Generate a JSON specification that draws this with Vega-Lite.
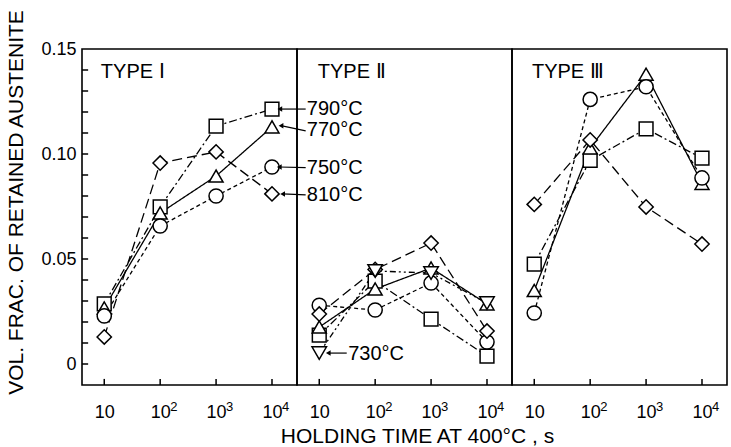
{
  "$schema": "https://vega.github.io/schema/vega-lite/v6.json",
  "padding": {"left": 5, "top": 8, "right": 0, "bottom": 0},
  "background": "white",
  "spacing": 0,
  "bounds": "flush",
  "datasets": {
    "pts": [
      {"p": "I", "t": "790", "x": 10, "y": 0.0286}, {"p": "I", "t": "790", "x": 100, "y": 0.0748}, {"p": "I", "t": "790", "x": 1000, "y": 0.1133}, {"p": "I", "t": "790", "x": 10000, "y": 0.1214},
      {"p": "I", "t": "770", "x": 10, "y": 0.0267}, {"p": "I", "t": "770", "x": 100, "y": 0.0719}, {"p": "I", "t": "770", "x": 1000, "y": 0.0895}, {"p": "I", "t": "770", "x": 10000, "y": 0.1129},
      {"p": "I", "t": "750", "x": 10, "y": 0.0229}, {"p": "I", "t": "750", "x": 100, "y": 0.0657}, {"p": "I", "t": "750", "x": 1000, "y": 0.080}, {"p": "I", "t": "750", "x": 10000, "y": 0.0938},
      {"p": "I", "t": "810", "x": 10, "y": 0.0129}, {"p": "I", "t": "810", "x": 100, "y": 0.0957}, {"p": "I", "t": "810", "x": 1000, "y": 0.101}, {"p": "I", "t": "810", "x": 10000, "y": 0.081},
      {"p": "II", "t": "790", "x": 10, "y": 0.0138}, {"p": "II", "t": "790", "x": 100, "y": 0.0395}, {"p": "II", "t": "790", "x": 1000, "y": 0.0214}, {"p": "II", "t": "790", "x": 10000, "y": 0.0038},
      {"p": "II", "t": "770", "x": 10, "y": 0.0176}, {"p": "II", "t": "770", "x": 100, "y": 0.0357}, {"p": "II", "t": "770", "x": 1000, "y": 0.0457}, {"p": "II", "t": "770", "x": 10000, "y": 0.0286},
      {"p": "II", "t": "750", "x": 10, "y": 0.028}, {"p": "II", "t": "750", "x": 100, "y": 0.0257}, {"p": "II", "t": "750", "x": 1000, "y": 0.0386}, {"p": "II", "t": "750", "x": 10000, "y": 0.0105},
      {"p": "II", "t": "810", "x": 10, "y": 0.0238}, {"p": "II", "t": "810", "x": 100, "y": 0.045}, {"p": "II", "t": "810", "x": 1000, "y": 0.0576}, {"p": "II", "t": "810", "x": 10000, "y": 0.0157},
      {"p": "II", "t": "730", "x": 10, "y": 0.0052}, {"p": "II", "t": "730", "x": 100, "y": 0.0443}, {"p": "II", "t": "730", "x": 1000, "y": 0.0433}, {"p": "II", "t": "730", "x": 10000, "y": 0.029},
      {"p": "III", "t": "790", "x": 10, "y": 0.0476}, {"p": "III", "t": "790", "x": 100, "y": 0.097}, {"p": "III", "t": "790", "x": 1000, "y": 0.112}, {"p": "III", "t": "790", "x": 10000, "y": 0.098},
      {"p": "III", "t": "770", "x": 10, "y": 0.035}, {"p": "III", "t": "770", "x": 100, "y": 0.1029}, {"p": "III", "t": "770", "x": 1000, "y": 0.138}, {"p": "III", "t": "770", "x": 10000, "y": 0.086},
      {"p": "III", "t": "750", "x": 10, "y": 0.0243}, {"p": "III", "t": "750", "x": 100, "y": 0.126}, {"p": "III", "t": "750", "x": 1000, "y": 0.132}, {"p": "III", "t": "750", "x": 10000, "y": 0.0886},
      {"p": "III", "t": "810", "x": 10, "y": 0.076}, {"p": "III", "t": "810", "x": 100, "y": 0.1067}, {"p": "III", "t": "810", "x": 1000, "y": 0.0748}, {"p": "III", "t": "810", "x": 10000, "y": 0.0571}
    ],
    "notes": [
      {"p": "I", "label": "TYPE Ⅰ", "x": 8.7, "y": 0.139},
      {"p": "II", "label": "TYPE Ⅱ", "x": 9.4, "y": 0.139},
      {"p": "III", "label": "TYPE Ⅲ", "x": 9.1, "y": 0.139},
      {"p": "I", "label": "790°C", "x": 42000, "y": 0.1214},
      {"p": "I", "label": "770°C", "x": 42000, "y": 0.1115},
      {"p": "I", "label": "750°C", "x": 42000, "y": 0.0935},
      {"p": "I", "label": "810°C", "x": 42000, "y": 0.0805},
      {"p": "II", "label": "730°C", "x": 33, "y": 0.005}
    ],
    "leaders": [
      {"p": "I", "x": 13800, "y": 0.1214, "x2": 40000, "y2": 0.1214},
      {"p": "I", "x": 14500, "y": 0.1135, "x2": 40000, "y2": 0.111},
      {"p": "I", "x": 13500, "y": 0.0938, "x2": 40000, "y2": 0.0935},
      {"p": "I", "x": 15500, "y": 0.081, "x2": 40000, "y2": 0.0805},
      {"p": "II", "x": 14.5, "y": 0.0052, "x2": 31, "y2": 0.0052}
    ],
    "xt": [
      {"x": 10, "y": -0.01, "y2": -0.0071, "e": ""}, {"x": 100, "y": -0.01, "y2": -0.0071, "e": "2"}, {"x": 1000, "y": -0.01, "y2": -0.0071, "e": "3"}, {"x": 10000, "y": -0.01, "y2": -0.0071, "e": "4"}
    ],
    "yt": [
      {"x": 4, "x2": 5.15, "y": 0}, {"x": 4, "x2": 5.15, "y": 0.01}, {"x": 4, "x2": 5.15, "y": 0.02}, {"x": 4, "x2": 5.15, "y": 0.03}, {"x": 4, "x2": 5.15, "y": 0.04}, {"x": 4, "x2": 5.15, "y": 0.05}, {"x": 4, "x2": 5.15, "y": 0.06}, {"x": 4, "x2": 5.15, "y": 0.07},
      {"x": 4, "x2": 5.15, "y": 0.08}, {"x": 4, "x2": 5.15, "y": 0.09}, {"x": 4, "x2": 5.15, "y": 0.1}, {"x": 4, "x2": 5.15, "y": 0.11}, {"x": 4, "x2": 5.15, "y": 0.12}, {"x": 4, "x2": 5.15, "y": 0.13}, {"x": 4, "x2": 5.15, "y": 0.14}
    ]
  },
  "hconcat": [
    {
      "width": 215, "height": 336,
      "encoding": {
        "x": {"field": "x", "type": "quantitative", "scale": {"type": "log", "domain": [4, 28000], "nice": false}, "axis": {"title": null, "values": [10, 100, 1000, 10000], "ticks": false, "labelPadding": 18, "labelOverlap": false, "labelExpr": "'10'"}},
        "y": {"field": "y", "type": "quantitative", "scale": {"domain": [-0.01, 0.15], "nice": false, "zero": false}, "axis": {"title": "VOL. FRAC. OF RETAINED AUSTENITE", "values": [0, 0.05, 0.1, 0.15], "labelExpr": "datum.value == 0 ? '0' : format(datum.value, '.2f')", "ticks": false, "labelOverlap": false, "labelPadding": 6, "titlePadding": 14, "titleY": 153}}
      },
      "layer": [
        {
          "data": {"name": "yt"},
          "mark": {"type": "rule", "color": "black", "strokeWidth": 1.5},
          "encoding": {"x2": {"field": "x2"}}
        },
        {
          "data": {"name": "xt"},
          "mark": {"type": "rule", "color": "black", "strokeWidth": 1.5},
          "encoding": {"y2": {"field": "y2"}}
        },
        {
          "data": {"name": "pts"}, "transform": [{"filter": "datum.p == 'I'"}],
          "mark": {"type": "line", "color": "black", "strokeWidth": 1.3},
          "encoding": {
            "detail": {"field": "t"},
            "strokeDash": {"field": "t", "type": "nominal", "scale": {"domain": ["790", "770", "750", "810", "730"], "range": [[8, 3, 2, 3], [1, 0], [4, 3], [10, 5], [6, 3, 2, 3, 2, 3]]}, "legend": null}
          }
        },
        {
          "data": {"name": "pts"}, "transform": [{"filter": "datum.p == 'I'"}],
          "mark": {"type": "point", "filled": true, "fill": "white", "stroke": "black", "strokeWidth": 1.5, "opacity": 1},
          "encoding": {
            "shape": {"field": "t", "type": "nominal", "scale": {"domain": ["790", "770", "750", "810", "730"], "range": ["square", "triangle-up", "circle", "diamond", "triangle-down"]}, "legend": null},
            "size": {"field": "t", "type": "nominal", "scale": {"domain": ["790", "770", "750", "810", "730"], "range": [190, 210, 150, 230, 210]}, "legend": null}
          }
        },
        {
          "data": {"name": "leaders"}, "transform": [{"filter": "datum.p == 'I'"}],
          "mark": {"type": "rule", "color": "black", "strokeWidth": 1.2},
          "encoding": {"x2": {"field": "x2"}, "y2": {"field": "y2"}}
        },
        {
          "data": {"name": "leaders"}, "transform": [{"filter": "datum.p == 'I'"}],
          "mark": {"type": "point", "shape": "triangle-left", "filled": true, "color": "black", "size": 30, "opacity": 1},
          "encoding": {}
        },
        {
          "data": {"name": "notes"}, "transform": [{"filter": "datum.p == 'I'"}],
          "mark": {"type": "text", "align": "left", "baseline": "middle", "fontSize": 20, "color": "black"},
          "encoding": {"text": {"field": "label"}}
        },
        {
          "data": {"name": "xt"},
          "mark": {"type": "text", "align": "left", "baseline": "alphabetic", "fontSize": 13, "color": "black", "dx": 10, "dy": 26},
          "encoding": {"text": {"field": "e"}}
        }
      ]
    },
    {
      "width": 215, "height": 336,
      "encoding": {
        "x": {"field": "x", "type": "quantitative", "scale": {"type": "log", "domain": [4, 28000], "nice": false}, "axis": {"title": "HOLDING TIME AT 400°C , s", "titleX": 120, "values": [10, 100, 1000, 10000], "ticks": false, "labelPadding": 18, "labelOverlap": false, "labelExpr": "'10'"}},
        "y": {"field": "y", "type": "quantitative", "scale": {"domain": [-0.01, 0.15], "nice": false, "zero": false}, "axis": null}
      },
      "layer": [
        {
          "data": {"name": "xt"},
          "mark": {"type": "rule", "color": "black", "strokeWidth": 1.5},
          "encoding": {"y2": {"field": "y2"}}
        },
        {
          "data": {"name": "pts"}, "transform": [{"filter": "datum.p == 'II'"}],
          "mark": {"type": "line", "color": "black", "strokeWidth": 1.3},
          "encoding": {
            "detail": {"field": "t"},
            "strokeDash": {"field": "t", "type": "nominal", "scale": {"domain": ["790", "770", "750", "810", "730"], "range": [[8, 3, 2, 3], [1, 0], [4, 3], [10, 5], [6, 3, 2, 3, 2, 3]]}, "legend": null}
          }
        },
        {
          "data": {"name": "pts"}, "transform": [{"filter": "datum.p == 'II'"}],
          "mark": {"type": "point", "filled": true, "fill": "white", "stroke": "black", "strokeWidth": 1.5, "opacity": 1},
          "encoding": {
            "shape": {"field": "t", "type": "nominal", "scale": {"domain": ["790", "770", "750", "810", "730"], "range": ["square", "triangle-up", "circle", "diamond", "triangle-down"]}, "legend": null},
            "size": {"field": "t", "type": "nominal", "scale": {"domain": ["790", "770", "750", "810", "730"], "range": [190, 210, 150, 230, 210]}, "legend": null}
          }
        },
        {
          "data": {"name": "leaders"}, "transform": [{"filter": "datum.p == 'II'"}],
          "mark": {"type": "rule", "color": "black", "strokeWidth": 1.2},
          "encoding": {"x2": {"field": "x2"}, "y2": {"field": "y2"}}
        },
        {
          "data": {"name": "leaders"}, "transform": [{"filter": "datum.p == 'II'"}],
          "mark": {"type": "point", "shape": "triangle-left", "filled": true, "color": "black", "size": 30, "opacity": 1},
          "encoding": {}
        },
        {
          "data": {"name": "notes"}, "transform": [{"filter": "datum.p == 'II'"}],
          "mark": {"type": "text", "align": "left", "baseline": "middle", "fontSize": 20, "color": "black"},
          "encoding": {"text": {"field": "label"}}
        },
        {
          "data": {"name": "xt"},
          "mark": {"type": "text", "align": "left", "baseline": "alphabetic", "fontSize": 13, "color": "black", "dx": 10, "dy": 26},
          "encoding": {"text": {"field": "e"}}
        }
      ]
    },
    {
      "width": 215, "height": 336,
      "encoding": {
        "x": {"field": "x", "type": "quantitative", "scale": {"type": "log", "domain": [4, 28000], "nice": false}, "axis": {"title": null, "values": [10, 100, 1000, 10000], "ticks": false, "labelPadding": 18, "labelOverlap": false, "labelExpr": "'10'"}},
        "y": {"field": "y", "type": "quantitative", "scale": {"domain": [-0.01, 0.15], "nice": false, "zero": false}, "axis": null}
      },
      "layer": [
        {
          "data": {"name": "xt"},
          "mark": {"type": "rule", "color": "black", "strokeWidth": 1.5},
          "encoding": {"y2": {"field": "y2"}}
        },
        {
          "data": {"name": "pts"}, "transform": [{"filter": "datum.p == 'III'"}],
          "mark": {"type": "line", "color": "black", "strokeWidth": 1.3},
          "encoding": {
            "detail": {"field": "t"},
            "strokeDash": {"field": "t", "type": "nominal", "scale": {"domain": ["790", "770", "750", "810", "730"], "range": [[8, 3, 2, 3], [1, 0], [4, 3], [10, 5], [6, 3, 2, 3, 2, 3]]}, "legend": null}
          }
        },
        {
          "data": {"name": "pts"}, "transform": [{"filter": "datum.p == 'III'"}],
          "mark": {"type": "point", "filled": true, "fill": "white", "stroke": "black", "strokeWidth": 1.5, "opacity": 1},
          "encoding": {
            "shape": {"field": "t", "type": "nominal", "scale": {"domain": ["790", "770", "750", "810", "730"], "range": ["square", "triangle-up", "circle", "diamond", "triangle-down"]}, "legend": null},
            "size": {"field": "t", "type": "nominal", "scale": {"domain": ["790", "770", "750", "810", "730"], "range": [190, 210, 150, 230, 210]}, "legend": null}
          }
        },
        {
          "data": {"name": "notes"}, "transform": [{"filter": "datum.p == 'III'"}],
          "mark": {"type": "text", "align": "left", "baseline": "middle", "fontSize": 20, "color": "black"},
          "encoding": {"text": {"field": "label"}}
        },
        {
          "data": {"name": "xt"},
          "mark": {"type": "text", "align": "left", "baseline": "alphabetic", "fontSize": 13, "color": "black", "dx": 10, "dy": 26},
          "encoding": {"text": {"field": "e"}}
        }
      ]
    }
  ],
  "config": {
    "font": "Liberation Sans",
    "view": {"stroke": "black", "strokeWidth": 1.6},
    "axis": {"grid": false, "domain": false, "labelFontSize": 18, "labelColor": "black", "labelFlush": false, "titleFontSize": 21, "titleFontWeight": "normal", "titleColor": "black"},
    "axisX": {"titlePadding": 4},
    "text": {"font": "Liberation Sans"}
  }
}
